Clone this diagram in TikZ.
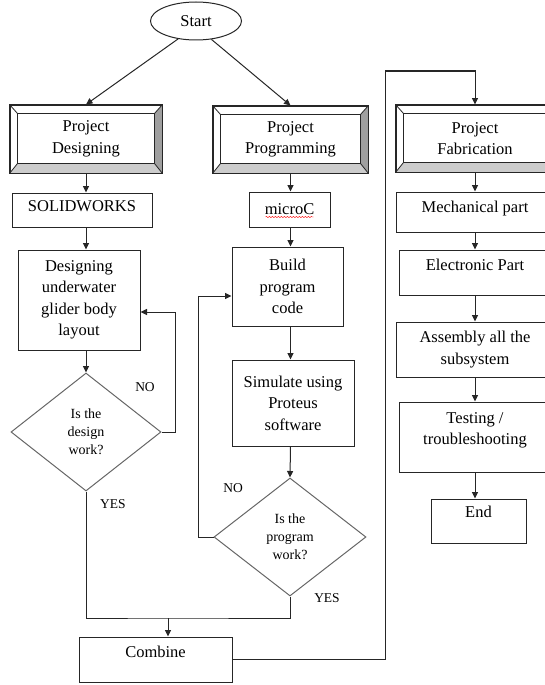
\documentclass[tikz,border=0pt]{standalone}
\usepackage{fontspec}
\setmainfont{Liberation Serif}
\usetikzlibrary{shapes.geometric,arrows.meta,calc,decorations.pathmorphing}

\begin{document}
\begin{tikzpicture}[x=1pt,y=-1pt,
	every node/.style={font=\fontsize{16.5}{21.5}\selectfont},
	box/.style={draw=black!85,line width=1pt,rectangle,align=center,inner sep=0pt},
	lift/.style={text height=12pt,text depth=#1},
	decide/.style={draw=black!60,line width=1pt,diamond,inner sep=0pt,align=center,font=\fontsize{14}{18}\selectfont},
	tag/.style={font=\fontsize{13.5}{16}\selectfont},
	arr/.style={line width=1pt,draw=black!85,-{Triangle[length=6.5pt,width=6pt]}},
	line/.style={line width=1pt,draw=black!85}]
			\useasboundingbox (0,0) rectangle (544,685);
			\node[draw=black!85,line width=1pt,ellipse,minimum width=91,minimum height=38] (start) at (196,21) {Start};

			\node[box,fill=white,minimum width=152,minimum height=68] (pdes) at (86,139) {Project\\Designing};
			\node[box,fill=white,minimum width=155,minimum height=67] (pprog) at (290.5,139.5) {Project\\Programming};
			\node[box,fill=white,minimum width=158,minimum height=67] (pfab) at (475,138.5) {Project\\Fabrication};
			% bevelled frames
			\foreach \b in {pdes,pprog,pfab} {
			\coordinate (\b-a) at ($(\b.north west)+(8,9)$);
			\coordinate (\b-b) at ($(\b.north east)+(-8,9)$);
			\coordinate (\b-c) at ($(\b.south east)+(-8,-10)$);
			\coordinate (\b-d) at ($(\b.south west)+(8,-10)$);
			\fill[gray!75] (\b.north east) -- (\b-b) -- (\b-c) -- (\b.south east) -- cycle;
			\fill[gray!40] (\b.south west) -- (\b-d) -- (\b-c) -- (\b.south east) -- cycle;
			\draw[line width=0.8pt,black!85] (\b-a) rectangle (\b-c)
				(\b.north west) -- (\b-a) (\b.north east) -- (\b-b)
				(\b.south east) -- (\b-c) (\b.south west) -- (\b-d);
			\draw[line] (\b.north west) rectangle (\b.south east);
			}

			\node[box,lift=10pt,minimum width=140,minimum height=34] (solid) at (82,210) {SOLIDWORKS};
			\node[box,minimum width=122,minimum height=100] (dlay) at (79,300) {Designing\\underwater\\glider body\\layout};
			\node[decide,minimum width=150,minimum height=118] (ddec) at (86,432) {Is the\\design\\work?};

			\node[box,minimum width=81,minimum height=35] (micro) at (289.5,209.5) {microC};
			\draw[red,decorate,decoration={snake,amplitude=0.6pt,segment length=3pt}]
				($(micro.center)+(-24,7.5)$) -- ($(micro.center)+(24,7.5)$);
			\node[box,minimum width=111,minimum height=79] (build) at (287.5,286.5) {Build\\program\\code};
			\node[box,minimum width=122,minimum height=86] (simu) at (293,403) {Simulate using\\Proteus\\software};
			\node[decide,minimum width=152,minimum height=118] (pdec) at (290,537) {Is the\\program\\work?};

			\node[box,lift=16pt,minimum width=153,minimum height=45] (combine) at (155.5,659.5) {Combine};

			\node[box,lift=11pt,minimum width=158,minimum height=40] (mech) at (475,212) {Mechanical part};
			\node[box,lift=17pt,minimum width=152,minimum height=45] (elec) at (475,272.5) {Electronic Part};
			\node[box,minimum width=158,minimum height=55] (asm) at (475,349.5) {Assembly all the\\subsystem};
			\node[box,text depth=17pt,minimum width=152,minimum height=70] (test) at (475,437) {Testing /\\troubleshooting};
			\node[box,lift=19pt,minimum width=95,minimum height=44] (fin) at (478.5,521) {End};

			\node[tag] (no1) at (145,387) {NO};
			\node[tag] (yes1) at (113,504) {YES};
			\node[tag] (no2) at (233,488) {NO};
			\node[tag] (yes2) at (327,598) {YES};

			\draw[arr] (start.225) -- (pdes.north);
			\draw[arr] (start.310) -- (pprog.north);

			\draw[arr] (pdes.south) -- (pdes.south |- solid.north);
			\draw[arr] (pdes.south |- solid.south) -- (pdes.south |- dlay.north);
			\draw[arr] (pdes.south |- dlay.south) -- (ddec.north);
			\draw[arr] (ddec.east) -- ++(14,0) |- ([yshift=-12pt]dlay.east);

			\draw[arr] (pprog.south) -- (pprog.south |- micro.north);
			\draw[arr] (pprog.south |- micro.south) -- (pprog.south |- build.north);
			\draw[arr] (pprog.south |- build.south) -- (pprog.south |- simu.north);
			\draw[arr] (pprog.south |- simu.south) -- (pdec.north);
			\draw[arr] (pdec.west) -- ++(-15,0) |- ([yshift=-9.5pt]build.west);

			\coordinate (join) at (168,618);
			\draw[line] (ddec.south) |- (join) -| (pdec.south);
			\draw[arr] (join) -- (join |- combine.north);
			\coordinate (ret) at (385,71);
			\draw[arr] (combine.east) -| (ret) -| (pfab.north);

			\draw[arr] (pfab.south) -- (mech.north);
			\draw[arr] (mech.south) -- (elec.north);
			\draw[arr] (elec.south) -- (asm.north);
			\draw[arr] (asm.south) -- (test.north);
			\draw[arr] (test.south) -- (test.south |- fin.north);
\end{tikzpicture}
\end{document}
